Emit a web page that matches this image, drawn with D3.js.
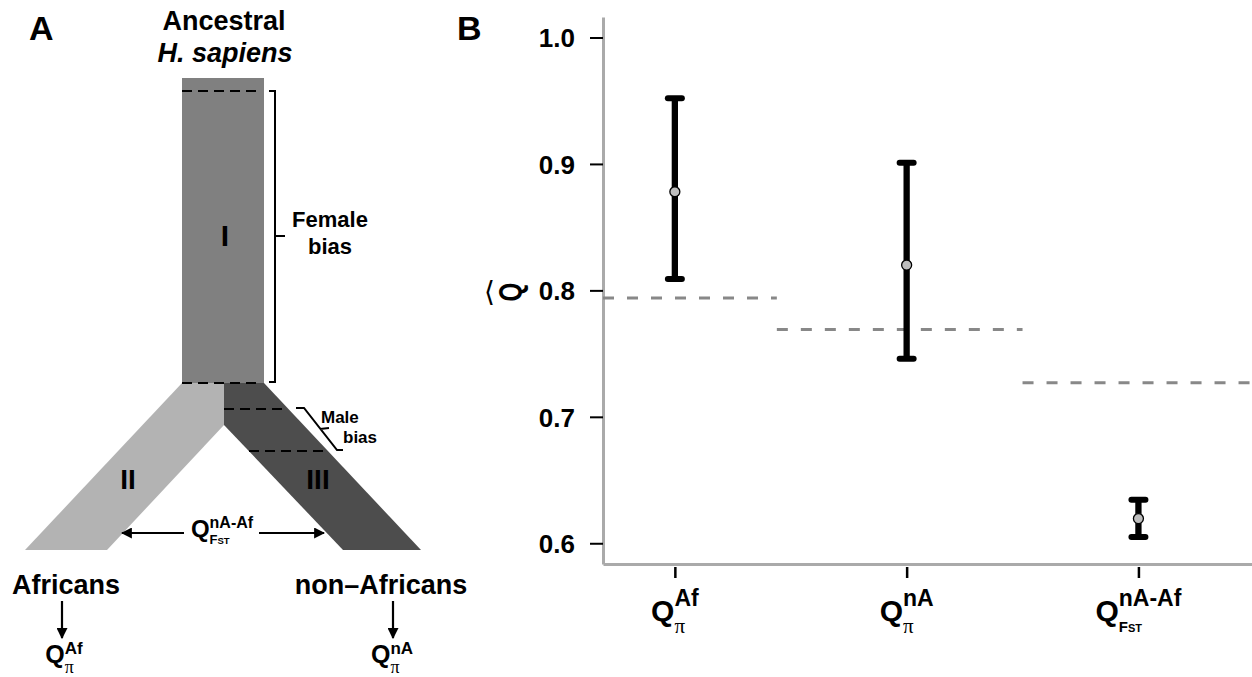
<!DOCTYPE html>
<html>
<head>
<meta charset="utf-8">
<script src="https://cdn.jsdelivr.net/npm/d3@7"></script>
<style>
  body { margin: 0; background: #fff; }
  svg { display: block; }
  text { font-family: "Liberation Sans", Arial, Helvetica, sans-serif; fill: #000; }
</style>
</head>
<body>
<div id="chart"></div>
<script>

// panel B data
var categories = [ 'Af', 'nA', 'nA-Af' ];
var qMean  = [ 0.878, 0.820, 0.6195 ];
var qLow   = [ 0.809, 0.746, 0.605 ];
var qHigh  = [ 0.952, 0.901, 0.6345 ];
// expected Q under no sex bias, one dashed segment per comparison (x in category units)
var baseValue = [ 0.794, 0.769, 0.727 ];
var baseFrom  = [ -0.31, 0.44, 1.50 ];
var baseTo    = [ 0.44, 1.50, 2.49 ];
var yTicks = [ 0.6, 0.7, 0.8, 0.9, 1.0 ];

var W = 1252, H = 677;

var svg = d3.select('#chart').append('svg')
    .attr('width', W)
    .attr('height', H);

svg.append('rect').attr('width', W).attr('height', H).attr('fill', '#fff');

// Q label with super / subscript, centred on cx, baseline at y
function qLabel ( parent, cx, y, o ) {

    var g = parent.append('g');

    var q = g.append('text')
        .attr('x', 0).attr('y', 0)
        .style('font-weight', 'bold')
        .style('font-size', o.q + 'px')
        .text('Q');

    var qw = q.node().getComputedTextLength();
    var x0 = qw + ( o.gap || 0 );

    var sup = g.append('text')
        .attr('x', x0).attr('y', -o.raise)
        .style('font-weight', 'bold')
        .style('font-size', o.supSize + 'px')
        .text(o.sup);

    var supW = sup.node().getComputedTextLength();
    var subW = 0;

    o.sub.forEach( function ( s ) {
        var t = g.append('text')
            .attr('x', x0 + subW).attr('y', o.drop)
            .style('font-weight', s.bold ? 'bold' : 'normal')
            .style('font-size', s.size + 'px')
            .text(s.t);
        if ( s.family ) t.style('font-family', s.family);
        subW += t.node().getComputedTextLength();
    });

    var total = x0 + Math.max( supW, subW );
    g.attr('transform', 'translate(' + ( cx - total / 2 ) + ',' + y + ')');

    return g;
}

var SERIF = '"Liberation Serif", "DejaVu Serif", serif';
var PI = [ { t: 'π', size: 21, bold: false, family: SERIF } ];
var FST = [ { t: 'F', size: 15, bold: true }, { t: 'ST', size: 11, bold: true } ];

/* ---------------- panel A : schematic ---------------- */

var A = svg.append('g');

A.append('text').attr('x', 29).attr('y', 40)
    .style('font-weight', 'bold').style('font-size', '34px').text('A');

A.append('text').attr('x', 224).attr('y', 30).attr('text-anchor', 'middle')
    .style('font-weight', 'bold').style('font-size', '27px').text('Ancestral');

A.append('text').attr('x', 225).attr('y', 62).attr('text-anchor', 'middle')
    .style('font-weight', 'bold').style('font-style', 'italic').style('font-size', '27px')
    .text('H. sapiens');

var line = d3.line();

// branches
A.append('path')
    .attr('d', line([ [182, 383], [224, 383], [224, 425], [107, 550], [25, 550] ]) + 'Z')
    .attr('fill', '#b3b3b3');

A.append('path')
    .attr('d', line([ [224, 383], [264, 383], [421, 550], [343, 550], [224, 425] ]) + 'Z')
    .attr('fill', '#4d4d4d');

// trunk
A.append('rect')
    .attr('x', 182).attr('y', 78)
    .attr('width', 82).attr('height', 305)
    .attr('fill', '#808080');

// dashed markers
[ [182, 258, 91], [182, 262, 383], [224, 286, 409], [249, 326, 451] ].forEach( function ( d ) {
    A.append('line')
        .attr('x1', d[0]).attr('x2', d[1])
        .attr('y1', d[2]).attr('y2', d[2])
        .attr('stroke', '#000')
        .attr('stroke-width', 2)
        .attr('stroke-dasharray', '10,6');
});

// female bias bracket
A.append('path')
    .attr('d', 'M269,91 H275 V382 H269 M275,236 H285')
    .attr('fill', 'none').attr('stroke', '#000').attr('stroke-width', 2);

A.append('text').attr('x', 330).attr('y', 227).attr('text-anchor', 'middle')
    .style('font-weight', 'bold').style('font-size', '22px').text('Female');
A.append('text').attr('x', 330).attr('y', 254).attr('text-anchor', 'middle')
    .style('font-weight', 'bold').style('font-size', '22px').text('bias');

// male bias bracket
A.append('path')
    .attr('d', 'M296,408 H304 L337,450 H343 M320,429 L329,428')
    .attr('fill', 'none').attr('stroke', '#000').attr('stroke-width', 2);

A.append('text').attr('x', 321).attr('y', 423)
    .style('font-weight', 'bold').style('font-size', '17px').text('Male');
A.append('text').attr('x', 343).attr('y', 443)
    .style('font-weight', 'bold').style('font-size', '17px').text('bias');

// epoch numerals
A.append('text').attr('x', 225).attr('y', 246).attr('text-anchor', 'middle')
    .style('font-weight', 'bold').style('font-size', '30px').text('I');
A.append('text').attr('x', 128).attr('y', 489).attr('text-anchor', 'middle')
    .style('font-weight', 'bold').style('font-size', '28px').text('II');
A.append('text').attr('x', 318).attr('y', 489).attr('text-anchor', 'middle')
    .style('font-weight', 'bold').style('font-size', '28px').text('III');

// arrow marker
svg.append('defs').append('marker')
    .attr('id', 'arrow')
    .attr('viewBox', '0 0 10 10')
    .attr('refX', 9).attr('refY', 5)
    .attr('markerWidth', 5).attr('markerHeight', 5)
    .attr('markerUnits', 'strokeWidth')
    .attr('orient', 'auto')
    .append('path')
    .attr('d', 'M0,0 L10,5 L0,10 Z')
    .attr('fill', '#000');

[ [184, 122, 533, 533], [259, 324, 533, 533], [62, 62, 601, 638], [393, 393, 601, 638] ].forEach( function ( d ) {
    A.append('line')
        .attr('x1', d[0]).attr('x2', d[1])
        .attr('y1', d[2]).attr('y2', d[3])
        .attr('stroke', '#000')
        .attr('stroke-width', 2.2)
        .attr('marker-end', 'url(#arrow)');
});

qLabel( A, 222, 537, { q: 24, sup: 'nA-Af', supSize: 16, raise: 9, drop: 7,
    sub: [ { t: 'F', size: 13, bold: true }, { t: 'ST', size: 9.5, bold: true } ] } );

A.append('text').attr('x', 66).attr('y', 594).attr('text-anchor', 'middle')
    .style('font-weight', 'bold').style('font-size', '27px').text('Africans');
A.append('text').attr('x', 381).attr('y', 594).attr('text-anchor', 'middle')
    .style('font-weight', 'bold').style('font-size', '27px').text('non\u2013Africans');

qLabel( A, 64, 663, { q: 25, sup: 'Af', supSize: 17, raise: 9, drop: 10,
    sub: [ { t: 'π', size: 18, bold: false, family: SERIF } ] } );
qLabel( A, 392, 663, { q: 25, sup: 'nA', supSize: 17, raise: 9, drop: 10,
    sub: [ { t: 'π', size: 18, bold: false, family: SERIF } ] } );

/* ---------------- panel B : Q estimates ---------------- */

var B = svg.append('g');

B.append('text').attr('x', 457).attr('y', 40)
    .style('font-weight', 'bold').style('font-size', '34px').text('B');

var x = d3.scaleLinear()
    .domain([ -0.31, 2.49 ])
    .range([ 603, 1252 ]);

var y = d3.scaleLinear()
    .domain([ 0.5836, 1.0162 ])
    .range([ 564, 17 ]);

var yAxis = B.append('g')
    .attr('transform', 'translate(603,0)')
    .call( d3.axisLeft( y )
        .tickValues( yTicks )
        .tickFormat( d3.format('.1f') )
        .tickSize( 13 )
        .tickSizeOuter( 0 )
        .tickPadding( 15 ) );

yAxis.select('.domain').attr('stroke', '#aaa').attr('stroke-width', 3);
yAxis.selectAll('.tick line').attr('stroke', '#000').attr('stroke-width', 2);
yAxis.selectAll('.tick text')
    .attr('dy', '0.36em')
    .style('font-family', '"Liberation Sans", Arial, sans-serif')
    .style('font-weight', 'bold')
    .style('font-size', '26px')
    .attr('fill', '#000');

var xAxis = B.append('g')
    .attr('transform', 'translate(0,564)')
    .call( d3.axisBottom( x )
        .tickValues( d3.range( categories.length ) )
        .tickFormat('')
        .tickSize( 14 )
        .tickSizeOuter( 0 ) );

xAxis.select('.domain').attr('stroke', '#aaa').attr('stroke-width', 3);
xAxis.selectAll('.tick line').attr('stroke', '#000').attr('stroke-width', 2.5).attr('y1', 3);

// y label: angle bracket + turned Q
B.append('text').attr('x', 484).attr('y', 301)
    .style('font-family', '"DejaVu Sans", sans-serif')
    .style('font-size', '28px').text('\u27E8');
B.append('text')
    .attr('transform', 'translate(510,292) rotate(-90) scale(0.78,1)')
    .attr('text-anchor', 'middle')
    .attr('dy', '0.36em')
    .style('font-weight', 'bold').style('font-size', '31px').text('Q');

// expected-value dashed segments
B.selectAll('.base')
    .data( baseValue )
    .enter().append('line')
    .attr('class', 'base')
    .attr('x1', function ( d, i ) { return x( baseFrom[i] ); })
    .attr('x2', function ( d, i ) { return x( baseTo[i] ); })
    .attr('y1', function ( d ) { return y( d ); })
    .attr('y2', function ( d ) { return y( d ); })
    .attr('stroke', '#888')
    .attr('stroke-width', 3)
    .attr('stroke-dasharray', '11,13');

// error bars
var bars = B.selectAll('.bar')
    .data( categories )
    .enter().append('g')
    .attr('class', 'bar');

bars.append('line')
    .attr('x1', function ( d, i ) { return x( i ); })
    .attr('x2', function ( d, i ) { return x( i ); })
    .attr('y1', function ( d, i ) { return y( qHigh[i] ); })
    .attr('y2', function ( d, i ) { return y( qLow[i] ); })
    .attr('stroke', '#000')
    .attr('stroke-width', 6.3);

[ qHigh, qLow ].forEach( function ( arr ) {
    bars.append('line')
        .attr('x1', function ( d, i ) { return x( i ) - 7; })
        .attr('x2', function ( d, i ) { return x( i ) + 7; })
        .attr('y1', function ( d, i ) { return y( arr[i] ); })
        .attr('y2', function ( d, i ) { return y( arr[i] ); })
        .attr('stroke', '#000')
        .attr('stroke-width', 6)
        .attr('stroke-linecap', 'round');
});

bars.append('circle')
    .attr('cx', function ( d, i ) { return x( i ); })
    .attr('cy', function ( d, i ) { return y( qMean[i] ); })
    .attr('r', 5)
    .attr('fill', '#bdbdbd')
    .attr('stroke', '#000')
    .attr('stroke-width', 1.3);

// x labels
categories.forEach( function ( c, i ) {
    qLabel( B, x( i ), 621, { q: 30, sup: c, supSize: 23, raise: 15, drop: i === 2 ? 11 : 12,
        sub: i === 2 ? FST : PI } );
});

</script>
</body>
</html>
